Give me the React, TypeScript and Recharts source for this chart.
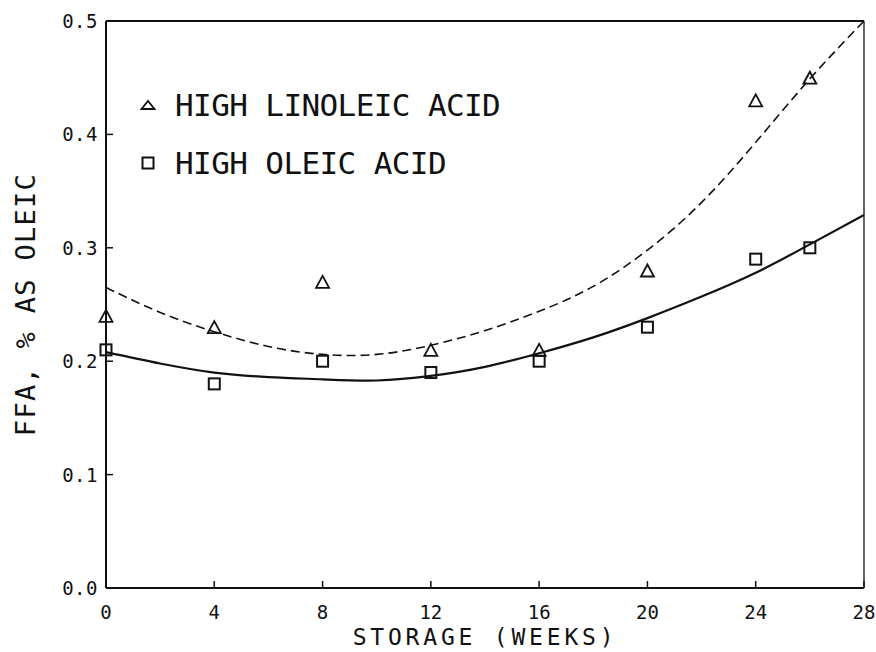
import { ComposedChart, Line, Scatter, XAxis, YAxis, ReferenceLine } from "recharts";

// fitted curves, every 2 weeks
const curveWeeks = [0, 2, 4, 6, 8, 10, 12, 14, 16, 18, 20, 22, 24, 26, 28];
const linoleicFit = [0.265, 0.243, 0.226, 0.213, 0.206, 0.206, 0.214, 0.227, 0.244, 0.266, 0.298, 0.34, 0.393, 0.449, 0.5];
const oleicFit = [0.208, 0.198, 0.19, 0.186, 0.184, 0.183, 0.187, 0.195, 0.207, 0.221, 0.238, 0.257, 0.278, 0.303, 0.329];

// observed samples
const sampleWeeks = [0, 4, 8, 12, 16, 20, 24, 26];
const linoleicObs = [0.24, 0.23, 0.27, 0.21, 0.21, 0.28, 0.43, 0.45];
const oleicObs = [0.21, 0.18, 0.2, 0.19, 0.2, 0.23, 0.29, 0.3];

const xTicks = [0, 4, 8, 12, 16, 20, 24, 28];
const yTicks = [0, 0.1, 0.2, 0.3, 0.4, 0.5];

const FONT = "'DejaVu Sans Mono', monospace";
const INK = "#111";

const curveData = curveWeeks.map((w, i) => ({ week: w, lin: linoleicFit[i], ole: oleicFit[i] }));
const linPoints = sampleWeeks.map((w, i) => ({ week: w, v: linoleicObs[i] }));
const olePoints = sampleWeeks.map((w, i) => ({ week: w, v: oleicObs[i] }));

const Triangle = ({ cx, cy, w = 13, h = 12 }: any) => (
  <polygon
    points={`${cx - w / 2},${cy + h / 2} ${cx + w / 2},${cy + h / 2} ${cx},${cy - h / 2}`}
    fill="none"
    stroke={INK}
    strokeWidth={1.8}
  />
);

const Square = ({ cx, cy, s = 11 }: any) => (
  <rect x={cx - s / 2} y={cy - s / 2} width={s} height={s} fill="none" stroke={INK} strokeWidth={2} />
);

const XTick = ({ x, y, payload }: any) => (
  <g>
    <line x1={x} y1={y} x2={x} y2={y - 7} stroke={INK} strokeWidth={1.5} />
    <text x={x} y={y + 31} textAnchor="middle" fontFamily={FONT} fontSize={19} fill={INK}>
      {payload.value}
    </text>
  </g>
);

const YTick = ({ x, y, payload }: any) => (
  <g>
    <line x1={x} y1={y} x2={x + 7} y2={y} stroke={INK} strokeWidth={1.5} />
    <text x={x - 8} y={y + 7} textAnchor="end" fontFamily={FONT} fontSize={19} letterSpacing={0.5} fill={INK}>
      {Number(payload.value).toFixed(1)}
    </text>
  </g>
);

const XTitle = ({ viewBox }: any) => (
  <text
    x={viewBox.x + viewBox.width / 2}
    y={viewBox.y + 57}
    textAnchor="middle"
    fontFamily={FONT}
    fontSize={23}
    letterSpacing={3.8}
    fill={INK}
  >
    STORAGE (WEEKS)
  </text>
);

const YTitle = ({ viewBox }: any) => {
  const cx = viewBox.x + 25;
  const cy = viewBox.y + viewBox.height / 2;
  return (
    <text
      x={cx}
      y={cy}
      transform={`rotate(-90 ${cx} ${cy})`}
      textAnchor="middle"
      dominantBaseline="central"
      fontFamily={FONT}
      fontSize={27}
      letterSpacing={1.3}
      fill={INK}
    >
      FFA, % AS OLEIC
    </text>
  );
};

const legendRows = [
  { name: "HIGH LINOLEIC ACID", marker: "tri" },
  { name: "HIGH OLEIC ACID", marker: "sq" },
];

export default function App() {
  return (
    <div style={{ position: "absolute", left: 0, top: 0, width: 876, height: 652, background: "#fff" }}>
      <ComposedChart width={876} height={652} data={curveData} margin={{ top: 21, right: 12, bottom: 0, left: 0 }}>
        <XAxis
          dataKey="week"
          type="number"
          domain={[0, 28]}
          ticks={xTicks}
          interval={0}
          height={64}
          tickSize={0}
          tickMargin={0}
          tickLine={false}
          tick={<XTick />}
          axisLine={{ stroke: INK, strokeWidth: 2 }}
          label={<XTitle />}
        />
        <YAxis
          type="number"
          domain={[0, 0.5]}
          ticks={yTicks}
          interval={0}
          width={106}
          tickSize={0}
          tickMargin={0}
          tickLine={false}
          tick={<YTick />}
          axisLine={{ stroke: INK, strokeWidth: 2 }}
          label={<YTitle />}
        />
        <ReferenceLine y={0.5} stroke={INK} strokeWidth={2} />
        <ReferenceLine x={28} stroke={INK} strokeWidth={1.3} />
        <Line
          dataKey="lin"
          type="natural"
          stroke={INK}
          strokeWidth={1.6}
          strokeDasharray="9 5"
          dot={false}
          activeDot={false}
          isAnimationActive={false}
        />
        <Line
          dataKey="ole"
          type="natural"
          stroke={INK}
          strokeWidth={2.2}
          dot={false}
          activeDot={false}
          isAnimationActive={false}
        />
        <Scatter data={linPoints} dataKey="v" shape={<Triangle />} isAnimationActive={false} />
        <Scatter data={olePoints} dataKey="v" shape={<Square />} isAnimationActive={false} />
      </ComposedChart>
      <div style={{ position: "absolute", left: 140, top: 76, fontFamily: FONT, color: INK }}>
        {legendRows.map((r) => (
          <div key={r.name} style={{ display: "flex", alignItems: "center", height: 58 }}>
            <svg width={16} height={16} style={{ marginRight: 19 }}>
              {r.marker === "tri" ? <Triangle cx={8} cy={8} w={13} h={8} /> : <Square cx={8} cy={8} s={11} />}
            </svg>
            <span style={{ fontSize: 31, letterSpacing: -0.6, lineHeight: "58px", whiteSpace: "nowrap" }}>{r.name}</span>
          </div>
        ))}
      </div>
    </div>
  );
}
